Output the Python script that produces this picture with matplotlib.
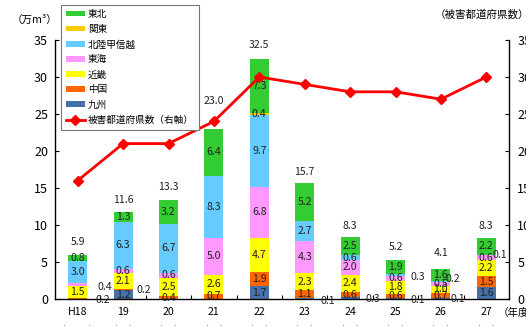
import matplotlib
matplotlib.use("Agg")
import matplotlib.pyplot as plt
import numpy as np

plt.rcParams['font.family'] = ['Noto Sans CJK JP', 'DejaVu Sans']

# Fiscal years (tick labels)
years = ["H18\n(2006)", "19\n(07)", "20\n(08)", "21\n(09)", "22\n(10)",
         "23\n(11)", "24\n(12)", "25\n(13)", "26\n(14)", "27\n(15)"]

# Damaged volume by region (10,000 m3), bottom-to-top stacking order
kyushu   = [0.0, 1.2, 0.0, 0.0, 1.7, 0.1, 0.3, 0.1, 0.1, 1.6]
chugoku  = [0.2, 0.2, 0.4, 0.7, 1.9, 1.1, 0.6, 0.6, 0.7, 1.5]
kinki    = [1.5, 2.1, 2.5, 2.6, 4.7, 2.3, 2.4, 1.8, 1.0, 2.2]
tokai    = [0.4, 0.6, 0.6, 5.0, 6.8, 4.3, 2.0, 0.6, 0.5, 0.6]
hokuriku = [3.0, 6.3, 6.7, 8.3, 9.7, 2.7, 0.6, 0.3, 0.2, 0.1]
kanto    = [0.0, 0.0, 0.0, 0.0, 0.4, 0.0, 0.0, 0.0, 0.0, 0.0]
tohoku   = [0.8, 1.3, 3.2, 6.4, 7.3, 5.2, 2.5, 1.9, 1.6, 2.2]

totals = [5.9, 11.6, 13.3, 23.0, 32.5, 15.7, 8.3, 5.2, 4.1, 8.3]

# Number of damaged prefectures (right axis)
prefectures = [16, 21, 21, 24, 30, 29, 28, 28, 27, 30]

series = [
    ("九州", kyushu, "#4671A8"),
    ("中国", chugoku, "#FF6600"),
    ("近畿", kinki, "#FFFF00"),
    ("東海", tokai, "#FF99FF"),
    ("北陸甲信越", hokuriku, "#66CCFF"),
    ("関東", kanto, "#FFCC00"),
    ("東北", tohoku, "#33CC33"),
]

# small segments whose value label sits beside the bar: (region, year index) -> (dx px, dy px)
side_labels = {
    ("東海", 0): (27, -2), ("中国", 0): (25, -2),
    ("中国", 1): (21, -1),
    ("九州", 5): (23, -2),
    ("九州", 6): (23, -1),
    ("北陸甲信越", 7): (22, -2), ("九州", 7): (22, -1),
    ("北陸甲信越", 8): (12, 2), ("九州", 8): (17, 0),
    ("北陸甲信越", 9): (14, 0),
}
# gap (px) between bar top and its total label
total_lift = [13, 12, 13, 28, 14, 11, 11, 13, 16, 12]

W, H = 526, 326
PT = 0.72  # points per pixel at 100 dpi
fig = plt.figure(figsize=(W / 100, H / 100), dpi=100)
ax = fig.add_axes([55 / W, 1 - 299 / H, (509 - 55) / W, (299 - 40) / H])

x = np.arange(len(years))
bw = 0.42
fs = 7.6
bottom = np.zeros(len(years))
handles = {}
for name, vals, col in series:
    vals = np.array(vals)
    b = ax.bar(x, vals, bw, bottom=bottom, color=col, linewidth=0, zorder=2)
    handles[name] = b
    for i, v in enumerate(vals):
        if v <= 0:
            continue
        yc = bottom[i] + v / 2
        if (name, i) in side_labels:
            dx, dy = side_labels[(name, i)]
            ax.annotate(f"{v:.1f}", (x[i], yc), xytext=(dx * PT, dy * PT),
                        textcoords="offset points", ha="center", va="center",
                        fontsize=fs, color="#222222", zorder=5)
        else:
            ax.text(x[i], yc, f"{v:.1f}", ha="center", va="center",
                    fontsize=fs, color="#222222", zorder=5)
    bottom = bottom + vals

stack_top = bottom
for i, t in enumerate(totals):
    ax.annotate(f"{t:.1f}", (x[i], stack_top[i]), xytext=(0, total_lift[i] * PT),
                textcoords="offset points", ha="center", va="center",
                fontsize=fs, color="#222222")

ax.set_xlim(-0.5, len(years) - 0.5)
ax.set_ylim(0, 35)
ax.set_yticks(range(0, 36, 5))
ax.set_xticks(x)
ax.set_xticklabels(years, fontsize=fs, linespacing=1.9)
ax.set_xticks(np.arange(0.5, len(years) - 0.5, 1), minor=True)
ax.tick_params(axis="x", which="major", length=0, pad=6)
ax.tick_params(axis="x", which="minor", length=3, direction="in", width=0.8)
ax.tick_params(axis="y", direction="in", length=3, width=0.8, labelsize=9, pad=5)
for s in ("top", "right"):
    ax.spines[s].set_visible(False)
for s in ("left", "bottom"):
    ax.spines[s].set_linewidth(1.0)

ax2 = ax.twinx()
ax2.set_ylim(0, 35)
ax2.set_yticks(range(0, 36, 5))
ax2.tick_params(axis="y", direction="in", length=3, width=0.8, labelsize=9, pad=6)
for s in ("top", "left", "bottom"):
    ax2.spines[s].set_visible(False)
ax2.spines["right"].set_linewidth(1.0)
line, = ax2.plot(x, prefectures, color="#FF0000", lw=2, marker="D", ms=5, zorder=6)

fig.text(12 / W, 1 - 20 / H, "（万m³）", fontsize=fs, va="center", ha="left")
fig.text(435 / W, 1 - 15 / H, "（被害都道府県数）", fontsize=fs, va="center", ha="left")
fig.text(498 / W, 1 - 313 / H, "（年度）", fontsize=fs, va="center", ha="left")

order = ["東北", "関東", "北陸甲信越", "東海", "近畿", "中国", "九州"]
leg = fig.legend([handles[n] for n in order] + [line],
                 order + ["被害都道府県数（右軸）"],
                 loc="upper left", bbox_to_anchor=(61 / W, 1 - 5 / H),
                 borderaxespad=0, fontsize=6.9, frameon=True, fancybox=False,
                 edgecolor="#777777", framealpha=1, handlelength=2.0,
                 handleheight=0.5, handletextpad=0.3, labelspacing=0.62,
                 borderpad=0.5)
leg.get_frame().set_linewidth(0.8)

fig.savefig("out.png", dpi=100)
